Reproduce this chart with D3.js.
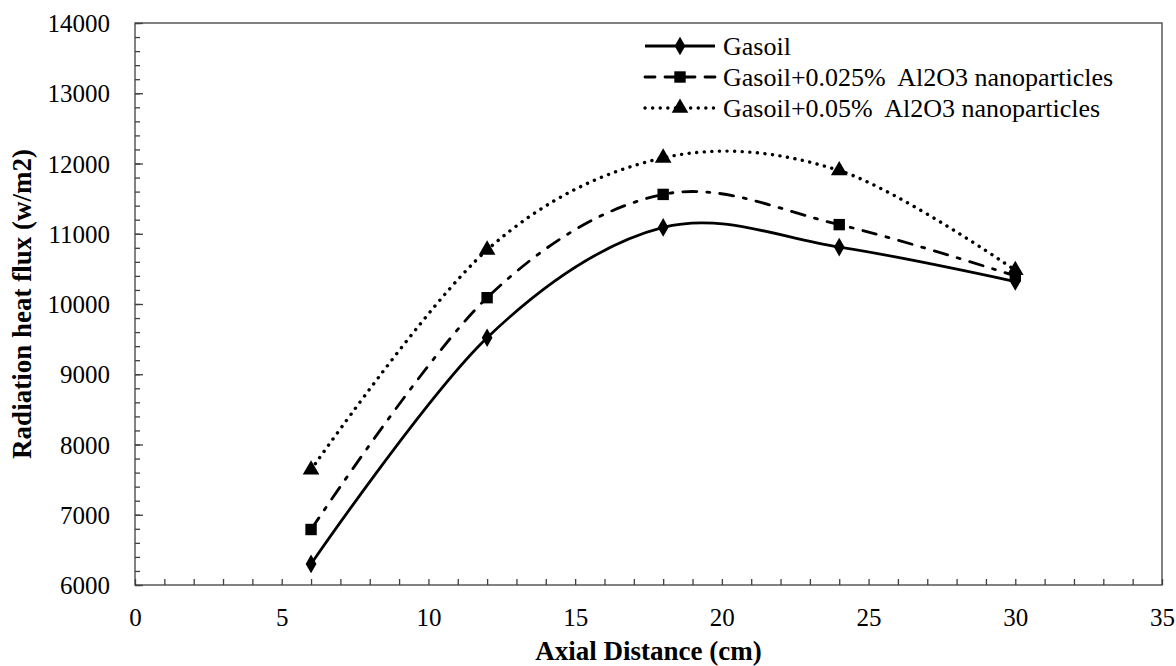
<!DOCTYPE html>
<html><head><meta charset="utf-8">
<script src="https://cdn.jsdelivr.net/npm/d3@7"></script>
<style>body{margin:0;background:#fff} svg text{font-family:"Liberation Serif","Times New Roman",Times,serif;}</style>
</head><body>
<script>
const xValues = [6, 12, 18, 24, 30];
const gasoil = [6300, 9520, 11090, 10810, 10320];
const gasoil025 = [6790, 10090, 11560, 11130, 10400];
const gasoil05 = [7640, 10770, 12080, 11900, 10480];
const seriesNames = ["Gasoil", "Gasoil+0.025%  Al2O3 nanoparticles", "Gasoil+0.05%  Al2O3 nanoparticles"];
const xTicks = [0, 5, 10, 15, 20, 25, 30, 35];
const yTicks = [6000, 7000, 8000, 9000, 10000, 11000, 12000, 13000, 14000];

const W = 1176, H = 666;
const m = {l: 135, r: 1162, t: 23, b: 585};
const svg = d3.select("body").append("svg").attr("width", W).attr("height", H);
const x = d3.scaleLinear().domain([0, 35]).range([m.l, m.r]);
const y = d3.scaleLinear().domain([6000, 14000]).range([m.b, m.t]);

// frame
svg.append("rect").attr("x", m.l).attr("y", m.t).attr("width", m.r - m.l).attr("height", m.b - m.t)
  .attr("fill", "none").attr("stroke", "#404040").attr("stroke-width", 1.3);

// minor ticks
const xAxisMinor = d3.axisBottom(x).tickValues(d3.range(0, 36, 1)).tickSize(-6).tickFormat("");
svg.append("g").attr("transform", `translate(0,${m.b})`).call(xAxisMinor)
  .call(g => { g.select(".domain").remove(); g.selectAll("line").attr("stroke", "#404040").attr("stroke-width", 1.3); });
const yAxisMinor = d3.axisLeft(y).tickValues(d3.range(6000, 14001, 200)).tickSize(-5).tickFormat("");
svg.append("g").attr("transform", `translate(${m.l},0)`).call(yAxisMinor)
  .call(g => { g.select(".domain").remove(); g.selectAll("line").attr("stroke", "#404040").attr("stroke-width", 1.3); });
const yAxisMajor = d3.axisLeft(y).tickValues(yTicks).tickSize(-8).tickFormat(d3.format("d"));
svg.append("g").attr("transform", `translate(${m.l},0)`).call(yAxisMajor)
  .call(g => { g.select(".domain").remove(); g.selectAll("line").attr("stroke", "#404040").attr("stroke-width", 1.3);
    g.attr("font-family", null).attr("font-size", null);
    g.selectAll("text").style("font-size", "25px").attr("fill", "#000").attr("x", -25).attr("dy", "0.34em"); });
const xAxisMajor = d3.axisBottom(x).tickValues(xTicks).tickSize(0).tickFormat(d3.format("d"));
svg.append("g").attr("transform", `translate(0,${m.b})`).call(xAxisMajor)
  .call(g => { g.select(".domain").remove(); g.attr("font-family", null).attr("font-size", null);
    g.selectAll("text").style("font-size", "25px").attr("fill", "#000").attr("y", 41).attr("dy", 0); });

// titles
svg.append("text").attr("x", (m.l + m.r) / 2).attr("y", 660).attr("text-anchor", "middle")
  .style("font-size", "27px").attr("font-weight", "bold").text("Axial Distance (cm)");
svg.append("text").attr("transform", `translate(31,${(m.t + m.b) / 2}) rotate(-90)`).attr("text-anchor", "middle")
  .style("font-size", "27px").attr("font-weight", "bold").text("Radiation heat flux (w/m2)");

const series = [
  {vals: gasoil, dash: null, width: 2.8, sym: d3.symbolDiamond, size: 100},
  {vals: gasoil025, dash: "14,10,3,10", width: 2.8, sym: d3.symbolSquare, size: 130, cap: "round"},
  {vals: gasoil05, dash: "0.1,7.5", width: 3.4, sym: d3.symbolTriangle, size: 120, cap: "round"}
];
const line = d3.line().x(d => x(d[0])).y(d => y(d[1])).curve(d3.curveCardinal.tension(0));

series.forEach(s => {
  const pts = xValues.map((xv, i) => [xv, s.vals[i]]);
  svg.append("path").datum(pts).attr("d", line).attr("fill", "none").attr("stroke", "#000")
    .attr("stroke-width", s.width).attr("stroke-dasharray", s.dash).attr("stroke-linecap", s.cap || "butt");
  svg.selectAll(null).data(pts).enter().append("path")
    .attr("d", d3.symbol().type(s.sym).size(s.size))
    .attr("transform", d => `translate(${x(d[0])},${y(d[1])})`).attr("fill", "#000");
});

// legend
const legY = [46, 77, 108];
series.forEach((s, i) => {
  const g = svg.append("g").attr("transform", `translate(0,${legY[i]})`);
  g.append("line").attr("x1", 645).attr("x2", 715).attr("y1", 0).attr("y2", 0).attr("stroke", "#000")
    .attr("stroke-width", s.width).attr("stroke-dasharray", i === 1 ? "10,10" : s.dash).attr("stroke-linecap", s.cap || "butt");
  g.append("path").attr("d", d3.symbol().type(s.sym).size(s.size)).attr("transform", "translate(680,0)").attr("fill", "#000");
  g.append("text").attr("x", 723).attr("y", 0).attr("dy", "0.35em")
    .style("font-size", "26px").text(seriesNames[i]).style("white-space", "pre");
});
</script>
</body></html>
